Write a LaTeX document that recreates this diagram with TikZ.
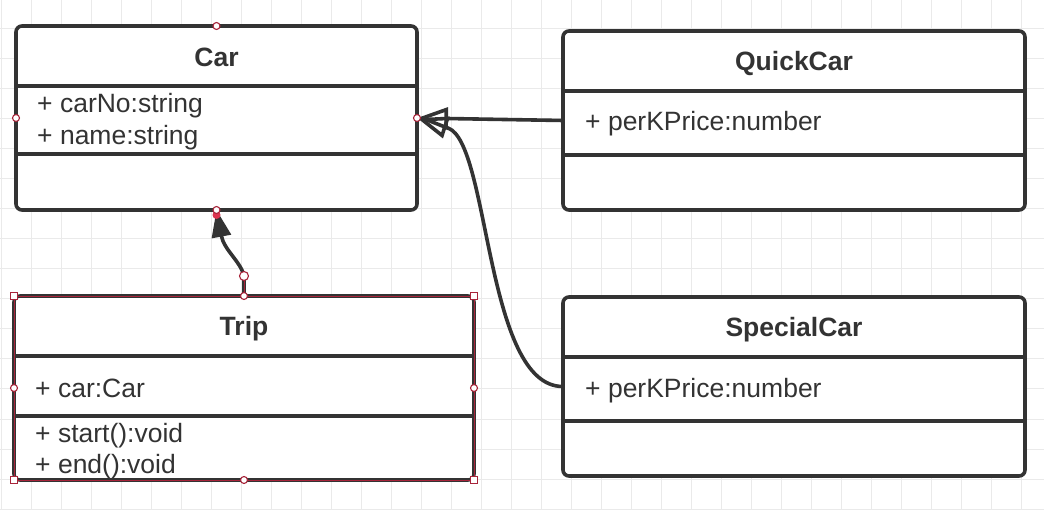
\documentclass[tikz,border=0pt]{standalone}
\usepackage{fontspec}
\setmainfont{Liberation Sans}
\usetikzlibrary{arrows.meta}

\definecolor{ink}{HTML}{333333}
\definecolor{gridgray}{HTML}{EAEAEA}
\definecolor{handle}{HTML}{A8243A}
\definecolor{handlefill}{HTML}{DC3550}

\tikzset{
  classbox/.style={draw=ink, line width=3.6pt, rounded corners=6pt, fill=white,
    inner sep=0pt, outer sep=0pt},
  title/.style={anchor=base, text=ink, font=\fontsize{26.5}{30}\selectfont\bfseries},
  member/.style={anchor=base west, inner sep=0pt, text=ink,
    font=\fontsize{26.5}{30}\selectfont},
  divider/.style={draw=ink, line width=3.6pt},
  link/.style={draw=ink, line width=3.6pt},
  dot/.style={draw=handle, fill=white, line width=1.1pt},
}

\begin{document}
\begin{tikzpicture}[x=1pt,y=-1pt]
  \useasboundingbox (0,0) rectangle (1044,510);
  \fill[white] (0,0) rectangle (1044,510);

  % grid
  \foreach \gx in {1,31,...,1021}
    \draw[gridgray, line width=1pt] (\gx,0) -- (\gx,510);
  \foreach \gy in {29,59,...,509}
    \draw[gridgray, line width=1pt] (0,\gy) -- (1044,\gy);

  % classes
  \node[classbox, minimum width=401pt, minimum height=184pt] (car) at (216.5,118) {};
  \node[classbox, minimum width=462pt, minimum height=179pt] (quickcar) at (794,120.5) {};
  \node[classbox, minimum width=462pt, minimum height=179pt] (specialcar) at (794,386.5) {};
  \node[classbox, minimum width=460pt, minimum height=184pt] (trip) at (244,388) {};

  \foreach \cls/\ya/\yb in {car/86/154, quickcar/91/155, specialcar/357/421, trip/356/416}{
    \draw[divider] (\cls.west |- 0,\ya) -- (\cls.east |- 0,\ya);
    \draw[divider] (\cls.west |- 0,\yb) -- (\cls.east |- 0,\yb);
  }

  \node[title] (cartitle) at (216.5,67) {Car};
  \node[member] (carno) at (37,113) {+ carNo:string};
  \node[member] (carname) at (37,145) {+ name:string};

  \node[title] (quicktitle) at (794,71) {QuickCar};
  \node[member] (quickprice) at (585,131) {+ perKPrice:number};

  \node[title] (specialtitle) at (794,337) {SpecialCar};
  \node[member] (specialprice) at (585,397) {+ perKPrice:number};

  \node[title] (triptitle) at (244,336) {Trip};
  \node[member] (tripcar) at (35,397) {+ car:Car};
  \node[member] (tripstart) at (35,442) {+ start():void};
  \node[member] (tripend) at (35,473) {+ end():void};

  % connectors
  \coordinate (bend) at (244,276);
  \draw[link, -{Triangle[open, length=31pt, width=22pt]}] (quickcar.west) -- (car.east);
  \draw[link, -{Triangle[open, length=31pt, width=22pt]}] (specialcar.west)
    .. controls (485,387) and (490,143) .. (448,128) -- (car.east);
  \draw[link, -{Triangle[length=27pt, width=19pt]}] (trip.north) -- (bend)
    .. controls (241,262) and (224,250) .. (car.south);

  % selection handles
  \draw[handle, line width=0.6pt] (trip.north west) rectangle (trip.south east);
  \draw[handle, line width=0.6pt] (trip.north) -- (bend);
  \foreach \c in {north west, north east, south west, south east}
    \draw[dot] ([shift={(-3.5,-3.5)}]trip.\c) rectangle ++(7,7);
  \foreach \c in {north, south, west, east}
    \draw[dot] (trip.\c) circle (3.5pt);
  \fill[handlefill] ([yshift=-5pt]car.south) circle (4pt);
  \foreach \c in {north, south, west, east}
    \draw[dot] (car.\c) circle (3.5pt);
  \draw[dot] (bend) circle (4.5pt);
\end{tikzpicture}
\end{document}
